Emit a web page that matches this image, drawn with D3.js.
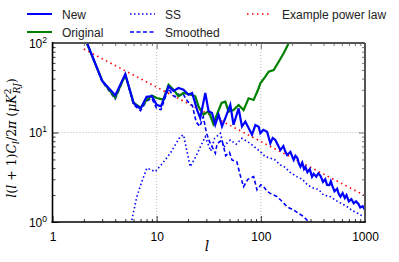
<!DOCTYPE html>
<html><head><meta charset="utf-8">
<script src="https://cdn.jsdelivr.net/npm/d3@7"></script>
<style>body{margin:0;background:#fff}svg{display:block}</style>
</head><body>
<svg id="c" width="399" height="262"></svg>
<script>
// ---- data ----
const newL = [2,3,4,5,6,7,8,9,10,11,13,14.5,16.2,18.1,20.2,21.9,24.4,26.2,29.3,31.5,34,36.5,39.3,42.4,45.6,50.9,54.7,61.2,65.9,71,76.3,82.3,88.6,95.3,98.9,105.7,114.8,123.4,130,137.8,146,154,164.5,171,178.6,192.2,206.7,215,224.3,232,240,250,260,268,280,295,310,322,340,357,375,395,415,433,455,470,487,510,540,560,581,610,640,664,700,740,780,820,866,900,950,1000];
const newV = [123,37.6,26,45,21.3,18.4,25,25.4,20.4,19.6,32.8,29.1,31.4,30.1,26.4,27.6,18,14.5,27.6,17.3,16.5,12.2,15.8,11.7,14.5,20.4,12.2,18.6,11.7,13.2,11.2,9.45,12.1,11.6,9.8,10.7,10.2,7.57,8.7,8.25,7.2,6.37,7.07,6.2,5.61,6.06,4.93,5.5,5.19,4.5,4.15,4.6,3.9,4.12,3.6,3.9,3.2,3.45,3.21,3.5,3.26,2.8,3.0,2.6,2.59,2.85,2.52,2.2,2.35,2.05,1.92,2.1,1.85,2.0,1.7,1.8,1.62,1.7,1.59,1.45,1.5,1.36];

const origL = [2,3,4,5,6,7,8,9,10,11.6,13,14.5,16.2,18.1,21,23.5,25.2,28.2,31.5,35,38,42,45.6,49,54.7,61.2,68.3,76.3,85.3,95.3,98.9,110.5,118.9,132.8,148.4,165.6,185,200];
const origV = [120,38,24.5,44,21.5,18.9,23,25.8,24.3,23.3,34.2,30.1,25.4,27.6,26.6,25.4,19.6,15.8,17.3,12.5,16,21.4,22.1,17.1,17.8,20.3,17.8,24.1,23.1,31.2,35.5,42,47.8,49.9,61.8,76.7,99.2,115];

const ssL = [5.77,6.45,7.2,8.05,9.7,11.5,13.5,16.8,18.1,21,24,27.2,29.3,33,36,40.9,44,47,50.9,58,65.9,79,98.9,110,123.4,135,154,170,190,222,250,280,322,360,400,466,520,600,674,750,850,973];
const ssV = [1.05,1.92,2.82,4.0,3.65,4.6,5.85,8.98,9.4,4.15,5.5,7.57,8.98,6.2,8.6,9.8,6.8,7.57,8.25,7.4,8.6,7.57,6.1,5.4,5.15,5.0,4.33,4.1,3.6,3.21,3.0,2.6,2.38,2.3,2.0,1.92,1.75,1.6,1.48,1.35,1.25,1.146];

const smL = [2,3,4,5,6,7,8,9,10,11,12,13,14,15,16,17,18,19,20,22,24,26,28,30,32,34,36.6,38,42.4,46,50,52.8,58.8,64,68.3,75,85.3,91.9,100,106.4,115,123.4,143,160,178.6,206.7,230,258,278,300];
const smV = [123,37,23.7,44,20.5,17.5,22.5,24,18.5,18,24,31,27,25,27,26,27,24,22,20,13,11.7,15,10,8,6.95,5.85,7.5,8.24,5.5,6,4.93,4.72,3.2,2.48,3.0,3.21,2.28,2.6,2.48,2.2,2.09,1.92,1.7,1.48,1.36,1.25,1.146,1.05,0.98];

const powL = [2,3,5,10,20,50,100,200,500,1000];
const powV = [85.7,66.7,48.9,32.1,21.1,12.1,7.94,5.22,3.0,1.97];

const xTicks = [1,10,100,1000];
const xTickLabels = ["1","10","100","1000"];
const yTicks = [1,10,100];
const yTickExp = ["0","1","2"];

// ---- chart ----
const svg = d3.select("#c");
const L = 52.5, R = 365, T = 43, B = 222;
const x = d3.scaleLog().domain([1,1000]).range([L,R]);
const y = d3.scaleLog().domain([1,100]).range([B,T]);

svg.append("defs").append("clipPath").attr("id","clip")
  .append("rect").attr("x",L).attr("y",T).attr("width",R-L).attr("height",B-T);

// grid
const grid = svg.append("g").attr("stroke","#aaa").attr("stroke-width",0.8).attr("stroke-dasharray","1,2");
[10,100].forEach(v=>grid.append("line").attr("x1",x(v)).attr("x2",x(v)).attr("y1",T).attr("y2",B));
[10].forEach(v=>grid.append("line").attr("y1",y(v)).attr("y2",y(v)).attr("x1",L).attr("x2",R));

const line = d3.line().x(d=>x(d[0])).y(d=>y(d[1]));
const zip = (a,b)=>a.map((v,i)=>[v,b[i]]);
const plot = svg.append("g").attr("clip-path","url(#clip)");

plot.append("path").datum(zip(powL,powV)).attr("d",line).attr("fill","none")
  .attr("stroke","#ff0000").attr("stroke-width",1.6).attr("stroke-dasharray","1.5,3.5");
plot.append("path").datum(zip(ssL,ssV)).attr("d",line).attr("fill","none")
  .attr("stroke","#0000ff").attr("stroke-width",1.6).attr("stroke-dasharray","1.5,2.5");
plot.append("path").datum(zip(smL,smV)).attr("d",line).attr("fill","none")
  .attr("stroke","#0000ff").attr("stroke-width",1.6).attr("stroke-dasharray","4,2.5");
plot.append("path").datum(zip(origL,origV)).attr("d",line).attr("fill","none")
  .attr("stroke","#008000").attr("stroke-width",2.2);
plot.append("path").datum(zip(newL,newV)).attr("d",line).attr("fill","none")
  .attr("stroke","#0000ff").attr("stroke-width",2.2);

// axes ticks
const minorX = [], minorY = [];
[1,10,100].forEach(d=>{for(let k=2;k<10;k++) minorX.push(d*k);});
[1,10].forEach(d=>{for(let k=2;k<10;k++) minorY.push(d*k);});

const axB = d3.axisBottom(x).tickValues(xTicks).tickSize(-6).tickFormat((d,i)=>xTickLabels[i]).tickPadding(10);
const gB = svg.append("g").attr("transform",`translate(0,${B})`).call(axB);
svg.append("g").attr("transform",`translate(0,${B})`).call(d3.axisBottom(x).tickValues(minorX).tickSize(-3).tickFormat(""));
svg.append("g").attr("transform",`translate(0,${T})`).call(d3.axisTop(x).tickValues(xTicks).tickSize(-6).tickFormat("")).attr("class","gr");
svg.append("g").attr("transform",`translate(0,${T})`).call(d3.axisTop(x).tickValues(minorX).tickSize(-3).tickFormat("")).attr("class","gr");

svg.append("g").attr("transform",`translate(${L},0)`).call(d3.axisLeft(y).tickValues(yTicks).tickSize(-6).tickFormat(""));
svg.append("g").attr("transform",`translate(${L},0)`).call(d3.axisLeft(y).tickValues(minorY).tickSize(-3).tickFormat(""));
svg.append("g").attr("transform",`translate(${R},0)`).call(d3.axisRight(y).tickValues(yTicks).tickSize(-6).tickFormat("")).attr("class","gr");
svg.append("g").attr("transform",`translate(${R},0)`).call(d3.axisRight(y).tickValues(minorY).tickSize(-3).tickFormat("")).attr("class","gr");

svg.selectAll(".domain").remove();
svg.selectAll(".tick line").attr("stroke","#000").attr("stroke-width",0.8);
svg.selectAll(".gr .tick line").attr("stroke","#555");
gB.selectAll("text").attr("font-family","Liberation Sans, Arial, sans-serif").attr("font-size",12).attr("fill","#000");

// y tick labels 10^n
yTicks.forEach((v,i)=>{
  const t = svg.append("text").attr("x",47).attr("y",y(v)+4.5).attr("text-anchor","end")
    .attr("font-family","Liberation Sans, Arial, sans-serif").attr("font-size",12).attr("fill","#000");
  t.append("tspan").text("10");
  t.append("tspan").attr("dy",-5).attr("font-size",8.5).text(yTickExp[i]);
});

// spines
svg.append("line").attr("x1",L).attr("x2",R).attr("y1",T).attr("y2",T).attr("stroke","#555").attr("stroke-width",2);
svg.append("line").attr("x1",R).attr("x2",R).attr("y1",T).attr("y2",B).attr("stroke","#555").attr("stroke-width",2);
svg.append("line").attr("x1",L).attr("x2",L).attr("y1",T-1).attr("y2",B+1).attr("stroke","#000").attr("stroke-width",1.6);
svg.append("line").attr("x1",L-1).attr("x2",R+1).attr("y1",B).attr("y2",B).attr("stroke","#000").attr("stroke-width",1.6);

// axis labels
svg.append("text").attr("x",207).attr("y",251).attr("text-anchor","middle")
  .attr("font-family","DejaVu Serif, serif").attr("font-style","italic").attr("font-size",14).text("l");

const yl = svg.append("text").attr("transform","translate(16,138) rotate(-90)").attr("text-anchor","middle")
  .attr("font-family","DejaVu Serif, serif").attr("font-style","italic").attr("font-size",12.5).attr("fill","#000");
yl.append("tspan").text("l");
yl.append("tspan").attr("font-style","normal").text("(");
yl.append("tspan").text("l");
yl.append("tspan").attr("font-style","normal").text(" + 1)");
yl.append("tspan").text("C");
yl.append("tspan").attr("dy",3).attr("font-size",9).text("l");
yl.append("tspan").attr("dy",-3).attr("font-style","normal").text("/2");
yl.append("tspan").text("π ");
yl.append("tspan").attr("font-style","normal").text("(");
yl.append("tspan").text("μK");
yl.append("tspan").attr("dy",-5).attr("font-size",9).attr("font-style","normal").text("2");
yl.append("tspan").attr("dx",-5).attr("dy",9).attr("font-size",9).text("RJ");
yl.append("tspan").attr("dy",-4).attr("font-style","normal").text(")");

// legend
const legItems = [
  {name:"New", x:27, y:14, dash:null, color:"#0000ff", w:2},
  {name:"Original", x:27, y:32, dash:null, color:"#008000", w:2},
  {name:"SS", x:130, y:14, dash:"1.5,2.5", color:"#0000ff", w:1.5},
  {name:"Smoothed", x:130, y:32, dash:"4,2.5", color:"#0000ff", w:1.5},
  {name:"Example power law", x:247, y:14, dash:"1.5,3.5", color:"#ff0000", w:1.6}
];
const lg = svg.append("g");
legItems.forEach(d=>{
  lg.append("line").attr("x1",d.x).attr("x2",d.x+25).attr("y1",d.y).attr("y2",d.y)
    .attr("stroke",d.color).attr("stroke-width",d.w).attr("stroke-dasharray",d.dash);
  lg.append("text").attr("x",d.x+35).attr("y",d.y+4.5).attr("font-family","Liberation Sans, Arial, sans-serif")
    .attr("font-size",12).attr("fill","#222").text(d.name);
});
</script>
</body></html>
